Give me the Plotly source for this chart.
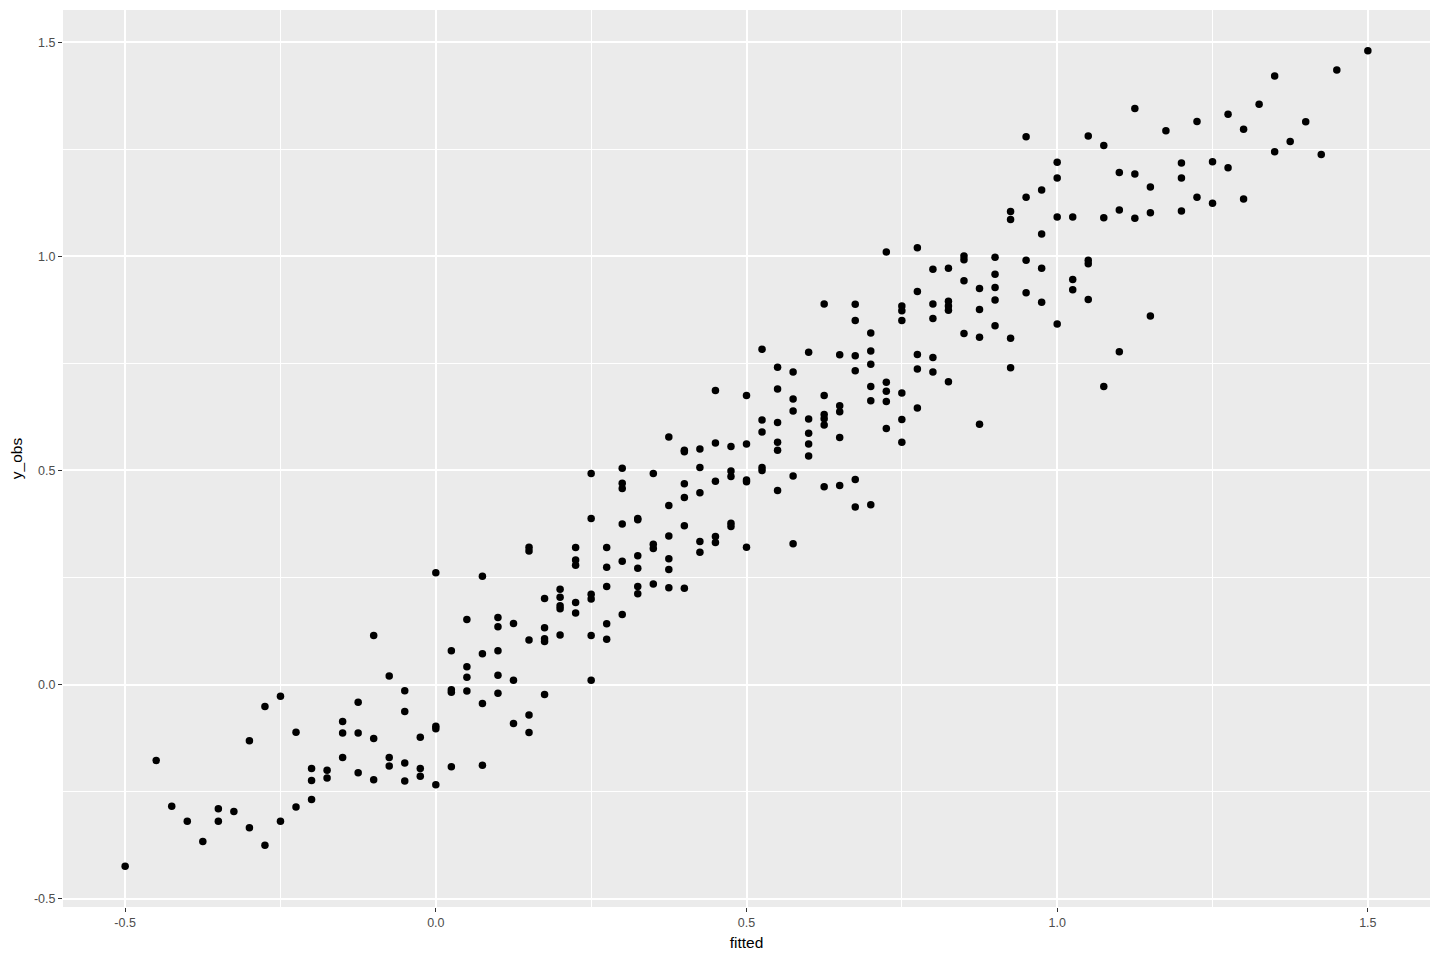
import plotly.graph_objects as go

# fitted values (grouped by column) and observed values
fitted = [
    -0.5, -0.45, -0.425, -0.4, -0.375, -0.35, -0.35, -0.325, -0.3, -0.3,
    -0.275, -0.275, -0.25, -0.25, -0.225, -0.225, -0.2, -0.2, -0.2,
    -0.175, -0.175, -0.15, -0.15, -0.15, -0.125, -0.125, -0.125,
    -0.1, -0.1, -0.1, -0.075, -0.075, -0.075, -0.05, -0.05, -0.05, -0.05,
    -0.025, -0.025, -0.025, 0.0, 0.0, 0.0, 0.0, 0.025, 0.025, 0.025, 0.025,
    0.05, 0.05, 0.05, 0.05, 0.075, 0.075, 0.075, 0.075,
    0.1, 0.1, 0.1, 0.1, 0.1, 0.125, 0.125, 0.125,
    0.15, 0.15, 0.15, 0.15, 0.15, 0.175, 0.175, 0.175, 0.175, 0.175,
    0.2, 0.2, 0.2, 0.2, 0.2, 0.225, 0.225, 0.225, 0.225, 0.225,
    0.25, 0.25, 0.25, 0.25, 0.25, 0.25, 0.275, 0.275, 0.275, 0.275, 0.275,
    0.3, 0.3, 0.3, 0.3, 0.3, 0.3, 0.325, 0.325, 0.325, 0.325, 0.325, 0.325,
    0.35, 0.35, 0.35, 0.35, 0.375, 0.375, 0.375, 0.375, 0.375, 0.375,
    0.4, 0.4, 0.4, 0.4, 0.4, 0.4, 0.425, 0.425, 0.425, 0.425, 0.425,
    0.45, 0.45, 0.45, 0.45, 0.45, 0.475, 0.475, 0.475, 0.475, 0.475,
    0.5, 0.5, 0.5, 0.5, 0.5, 0.525, 0.525, 0.525, 0.525, 0.525,
    0.55, 0.55, 0.55, 0.55, 0.55, 0.55, 0.575, 0.575, 0.575, 0.575, 0.575,
    0.6, 0.6, 0.6, 0.6, 0.6, 0.625, 0.625, 0.625, 0.625, 0.625, 0.625,
    0.65, 0.65, 0.65, 0.65, 0.65, 0.675, 0.675, 0.675, 0.675, 0.675, 0.675,
    0.7, 0.7, 0.7, 0.7, 0.7, 0.7, 0.725, 0.725, 0.725, 0.725, 0.725,
    0.75, 0.75, 0.75, 0.75, 0.75, 0.75, 0.775, 0.775, 0.775, 0.775, 0.775,
    0.8, 0.8, 0.8, 0.8, 0.8, 0.825, 0.825, 0.825, 0.825, 0.825,
    0.85, 0.85, 0.85, 0.85, 0.875, 0.875, 0.875, 0.875,
    0.9, 0.9, 0.9, 0.9, 0.9, 0.925, 0.925, 0.925, 0.925,
    0.95, 0.95, 0.95, 0.95, 0.975, 0.975, 0.975, 0.975,
    1.0, 1.0, 1.0, 1.0, 1.025, 1.025, 1.025, 1.05, 1.05, 1.05, 1.05,
    1.075, 1.075, 1.075, 1.1, 1.1, 1.1, 1.125, 1.125, 1.125,
    1.15, 1.15, 1.15, 1.175, 1.2, 1.2, 1.2, 1.225, 1.225, 1.25, 1.25,
    1.275, 1.275, 1.3, 1.3, 1.325, 1.35, 1.35, 1.375, 1.4, 1.425, 1.45, 1.5,
]

y_obs = [
    -0.424, -0.177, -0.284, -0.319, -0.366, -0.290, -0.319, -0.296, -0.131, -0.334,
    -0.051, -0.375, -0.027, -0.319, -0.111, -0.286, -0.196, -0.224, -0.268,
    -0.200, -0.218, -0.086, -0.113, -0.170, -0.041, -0.113, -0.206,
    0.115, -0.126, -0.222, 0.020, -0.170, -0.190, -0.014, -0.063, -0.183, -0.225,
    -0.123, -0.196, -0.214, 0.261, -0.097, -0.103, -0.234, 0.079, -0.012, -0.018, -0.192,
    0.152, 0.042, 0.017, -0.015, 0.253, 0.072, -0.044, -0.188,
    0.157, 0.135, 0.079, 0.022, -0.020, 0.143, 0.010, -0.091,
    0.321, 0.312, 0.104, -0.071, -0.112, 0.201, 0.133, 0.107, 0.101, -0.023,
    0.223, 0.204, 0.184, 0.177, 0.116, 0.320, 0.291, 0.279, 0.192, 0.167,
    0.493, 0.388, 0.211, 0.200, 0.115, 0.010, 0.320, 0.274, 0.229, 0.142, 0.106,
    0.505, 0.470, 0.458, 0.375, 0.288, 0.164, 0.385, 0.388, 0.301, 0.272, 0.229, 0.212,
    0.493, 0.328, 0.318, 0.235, 0.578, 0.418, 0.347, 0.294, 0.269, 0.226,
    0.547, 0.544, 0.469, 0.437, 0.371, 0.225, 0.550, 0.507, 0.448, 0.334, 0.309,
    0.687, 0.564, 0.475, 0.346, 0.332, 0.556, 0.499, 0.486, 0.377, 0.369,
    0.675, 0.562, 0.478, 0.474, 0.321, 0.783, 0.618, 0.590, 0.507, 0.500,
    0.741, 0.690, 0.612, 0.566, 0.547, 0.453, 0.730, 0.667, 0.639, 0.487, 0.329,
    0.776, 0.620, 0.587, 0.562, 0.534, 0.889, 0.675, 0.631, 0.621, 0.606, 0.462,
    0.770, 0.651, 0.637, 0.577, 0.465, 0.888, 0.850, 0.768, 0.733, 0.479, 0.415,
    0.821, 0.779, 0.748, 0.696, 0.663, 0.420, 1.010, 0.706, 0.685, 0.661, 0.598,
    0.884, 0.873, 0.850, 0.681, 0.619, 0.566, 1.020, 0.918, 0.771, 0.737, 0.646,
    0.970, 0.889, 0.855, 0.764, 0.730, 0.972, 0.895, 0.884, 0.874, 0.707,
    1.001, 0.992, 0.943, 0.820, 0.925, 0.876, 0.811, 0.608,
    0.998, 0.958, 0.927, 0.898, 0.838, 1.105, 1.086, 0.809, 0.740,
    1.279, 1.138, 0.991, 0.915, 1.155, 1.052, 0.972, 0.893,
    1.220, 1.183, 1.092, 0.842, 1.092, 0.946, 0.922, 1.281, 0.991, 0.983, 0.899,
    1.259, 1.090, 0.696, 1.196, 1.108, 0.777, 1.345, 1.192, 1.089,
    1.162, 1.102, 0.861, 1.293, 1.218, 1.183, 1.106, 1.315, 1.138, 1.221, 1.124,
    1.332, 1.207, 1.297, 1.134, 1.355, 1.421, 1.244, 1.268, 1.314, 1.238, 1.435, 1.480,
]

x_ticks = [-0.5, 0.0, 0.5, 1.0, 1.5]
y_ticks = [-0.5, 0.0, 0.5, 1.0, 1.5]

def expand(vals, mult=0.05):
    lo, hi = min(vals), max(vals)
    pad = (hi - lo) * mult
    return [lo - pad, hi + pad]

fig = go.Figure()
fig.add_trace(go.Scatter(
    x=fitted, y=y_obs, mode="markers",
    marker=dict(color="black", size=7.5, line=dict(width=0)),
    showlegend=False, hoverinfo="x+y",
))

axis_common = dict(
    showgrid=True, gridcolor="white", gridwidth=1.6,
    zeroline=False, showline=False,
    ticks="outside", ticklen=4, tickwidth=1, tickcolor="#333333",
    tickfont=dict(family="Liberation Sans, Arial, sans-serif", size=12.5, color="#4D4D4D"),
    minor=dict(showgrid=True, gridcolor="white", gridwidth=0.7, ticks=""),
    automargin=False,
)

fig.update_layout(
    width=1424, height=944,
    paper_bgcolor="white", plot_bgcolor="#EBEBEB",
    margin=dict(l=55, r=2, t=2, b=45),
    font=dict(family="Liberation Sans, Arial, sans-serif"),
    xaxis=dict(
        **axis_common,
        range=expand(fitted),
        tickvals=x_ticks, ticktext=[f"{v:.1f}" for v in x_ticks],
        title=dict(text="fitted", font=dict(size=15.5, color="black"), standoff=8),
    ),
    yaxis=dict(
        **axis_common,
        range=expand(y_obs),
        tickvals=y_ticks, ticktext=[f"{v:.1f}" for v in y_ticks],
        title=dict(text="y_obs", font=dict(size=15.5, color="black"), standoff=8),
    ),
)
fig.update_xaxes(minor=dict(tickvals=[-0.25, 0.25, 0.75, 1.25]))
fig.update_yaxes(minor=dict(tickvals=[-0.25, 0.25, 0.75, 1.25]))

fig.write_html("out.html")
